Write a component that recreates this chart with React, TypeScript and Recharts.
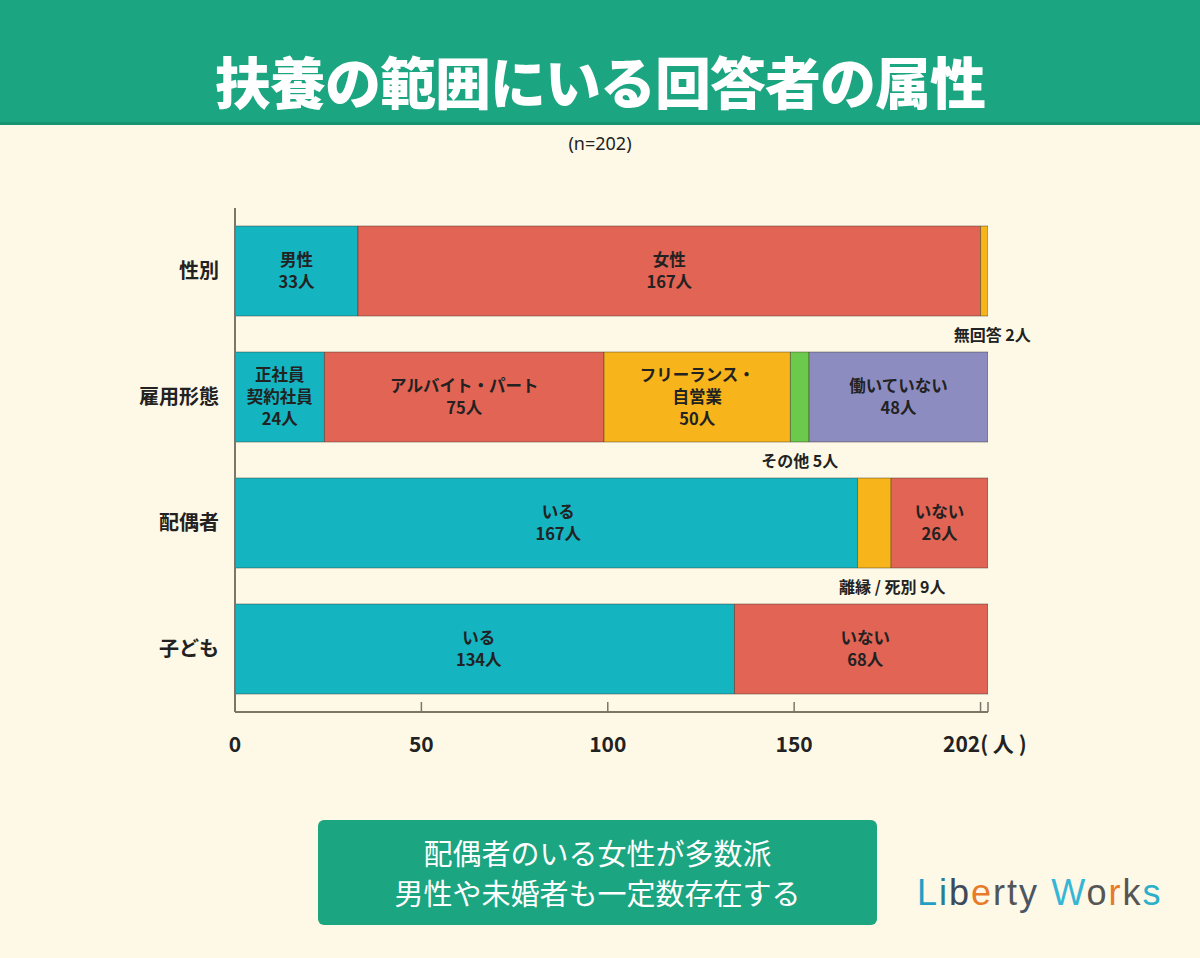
import React from "react";
import { BarChart, Bar, XAxis, YAxis, Cell, LabelList } from "recharts";

// rows of the chart (n=202)
const categories = ["性別", "雇用形態", "配偶者", "子ども"];

const segmentValues = [
  [33, 167, 2],
  [24, 75, 50, 5, 48],
  [167, 9, 26],
  [134, 68],
];

const segmentNames = [
  ["男性", "女性", "無回答"],
  ["正社員\n契約社員", "アルバイト・パート", "フリーランス・\n自営業", "その他", "働いていない"],
  ["いる", "離縁 / 死別", "いない"],
  ["いる", "いない"],
];

// small segments get their label below the bar
const outsideLabels = [
  [false, false, true],
  [false, false, false, true, false],
  [false, true, false],
  [false, false],
];

const xTicks = [0, 50, 100, 150, 200, 202];
const xTickLabels: Record<number, string> = {
  0: "0",
  50: "50",
  100: "100",
  150: "150",
  200: "",
  202: "202( 人 )",
};

const TEAL = "#14b4c1";
const RED = "#e26454";
const YELLOW = "#f7b51b";
const GREEN = "#6bc94b";
const PURPLE = "#8d8cc0";

const segmentColors = [
  [TEAL, RED, YELLOW],
  [TEAL, RED, YELLOW, GREEN, PURPLE],
  [TEAL, YELLOW, RED],
  [TEAL, RED],
];

const labelDx = [
  [0, 0, 8],
  [0, 0, 0, 0, 0],
  [12, 18, 0],
  [-6, 4],
];

const keys = ["s0", "s1", "s2", "s3", "s4"];

const data = categories.map((name, i) => {
  const row: Record<string, string | number> = { name };
  keys.forEach((k, j) => {
    row[k] = segmentValues[i][j] ?? 0;
  });
  return row;
});

const JP = '"Noto Sans CJK JP", "Noto Sans", sans-serif';

// LabelList uses dataKey="name", so value tells which row we are on
const makeLabel = (segIdx: number) => (props: any) => {
  const { x, y, width, height, value } = props;
  const row = categories.indexOf(value);
  if (row < 0) return null;
  const name = segmentNames[row][segIdx];
  const num = segmentValues[row][segIdx];
  if (name === undefined || !num) return null;
  const cx = x + width / 2 + labelDx[row][segIdx];
  if (outsideLabels[row][segIdx]) {
    return (
      <text
        x={cx}
        y={y + height + 25}
        textAnchor="middle"
        fontFamily={JP}
        fontWeight={700}
        fontSize={16}
        fill="#222"
      >
        {`${name} ${num}人`}
      </text>
    );
  }
  const lines = [...name.split("\n"), `${num}人`];
  const lh = 22;
  const startY = y + height / 2 - ((lines.length - 1) * lh) / 2 + 6;
  return (
    <g>
      {lines.map((l, k) => (
        <text
          key={k}
          x={cx}
          y={startY + k * lh}
          textAnchor="middle"
          fontFamily={JP}
          fontWeight={700}
          fontSize={16.5}
          fill="#222"
        >
          {l}
        </text>
      ))}
    </g>
  );
};

const XTick = (props: any) => {
  const { x, y, payload } = props;
  const v = payload.value as number;
  const label = xTickLabels[v] ?? String(v);
  const isEnd = v === 202;
  return (
    <g>
      <line x1={x} x2={x} y1={y - 10} y2={y} stroke="#7d7566" strokeWidth={1.5} />
      <text
        x={isEnd ? x - 45 : x}
        y={y + 40}
        textAnchor={isEnd ? "start" : "middle"}
        fontFamily={JP}
        fontWeight={700}
        fontSize={21}
        fill="#222"
      >
        {label}
      </text>
    </g>
  );
};

const YTick = (props: any) => {
  const { x, y, payload } = props;
  return (
    <text
      x={x}
      y={y + 7}
      textAnchor="end"
      fontFamily={JP}
      fontWeight={700}
      fontSize={20}
      fill="#222"
    >
      {payload.value}
    </text>
  );
};

function Logo() {
  const letters: [string, string][] = [
    ["L", "#1f9fc4"],
    ["i", "#2c7d94"],
    ["b", "#3d4a5c"],
    ["e", "#e87a2a"],
    ["r", "#555"],
    ["t", "#555"],
    ["y", "#4a5666"],
    [" ", "#555"],
    ["W", "#36b6d6"],
    ["o", "#555"],
    ["r", "#e87a2a"],
    ["k", "#555"],
    ["s", "#2ab0c8"],
  ];
  return (
    <div
      style={{
        position: "absolute",
        left: 917,
        top: 872,
        fontFamily: '"Liberation Sans", Arial, sans-serif',
        fontSize: 36,
        letterSpacing: 2,
        whiteSpace: "pre",
      }}
    >
      {letters.map(([c, col], i) => (
        <span key={i} style={{ color: col }}>
          {c}
        </span>
      ))}
    </div>
  );
}

export default function App() {
  return (
    <div
      style={{
        position: "absolute",
        left: 0,
        top: 0,
        width: 1200,
        height: 958,
        background: "#fdf9e6",
        overflow: "hidden",
        fontFamily: JP,
      }}
    >
      <div
        style={{
          position: "absolute",
          left: 0,
          top: 0,
          width: 1200,
          height: 122,
          background: "#1ba580",
          borderBottom: "3px solid #179571",
        }}
      />
      <div
        style={{
          position: "absolute",
          left: 0,
          top: 45,
          width: 1200,
          textAlign: "center",
          color: "#fff",
          fontSize: 56,
          fontWeight: 900,
          lineHeight: "70px",
          letterSpacing: -1,
        }}
      >
        扶養の範囲にいる回答者の属性
      </div>
      <div
        style={{
          position: "absolute",
          left: 0,
          top: 131,
          width: 1200,
          textAlign: "center",
          color: "#222",
          fontSize: 18,
          fontFamily: '"Liberation Sans Narrow", "Noto Sans", sans-serif',
        }}
      >
        (n=202)
      </div>

      <div style={{ position: "absolute", left: 0, top: 0 }}>
        <BarChart
          width={1200}
          height={958}
          data={data}
          layout="vertical"
          margin={{ top: 208, right: 212, bottom: 216, left: 0 }}
          barCategoryGap={18}
        >
          <XAxis
            type="number"
            domain={[0, 202]}
            ticks={xTicks}
            interval={0}
            height={30}
            tickSize={0}
            tickMargin={0}
            axisLine={{ stroke: "#7d7566", strokeWidth: 2 }}
            tick={<XTick />}
            allowDataOverflow
          />
          <YAxis
            type="category"
            dataKey="name"
            width={235}
            tickSize={0}
            tickMargin={16}
            axisLine={{ stroke: "#7d7566", strokeWidth: 2 }}
            tick={<YTick />}
          />
          {keys.map((k, j) => (
            <Bar
              key={k}
              dataKey={k}
              stackId="a"
              isAnimationActive={false}
              strokeWidth={1}
            >
              {data.map((_, i) => (
                <Cell
                  key={i}
                  fill={segmentColors[i][j] ?? "transparent"}
                  stroke={segmentColors[i][j] ? "rgba(60,50,40,0.45)" : "none"}
                />
              ))}
              <LabelList dataKey="name" content={makeLabel(j)} />
            </Bar>
          ))}
        </BarChart>
      </div>

      <div
        style={{
          position: "absolute",
          left: 318,
          top: 820,
          width: 559,
          height: 105,
          background: "#1ba580",
          borderRadius: 6,
          color: "#fff",
          fontSize: 29,
          lineHeight: "40px",
          textAlign: "center",
          paddingTop: 12,
          boxSizing: "border-box",
        }}
      >
        配偶者のいる女性が多数派
        <br />
        男性や未婚者も一定数存在する
      </div>
      <Logo />
    </div>
  );
}
